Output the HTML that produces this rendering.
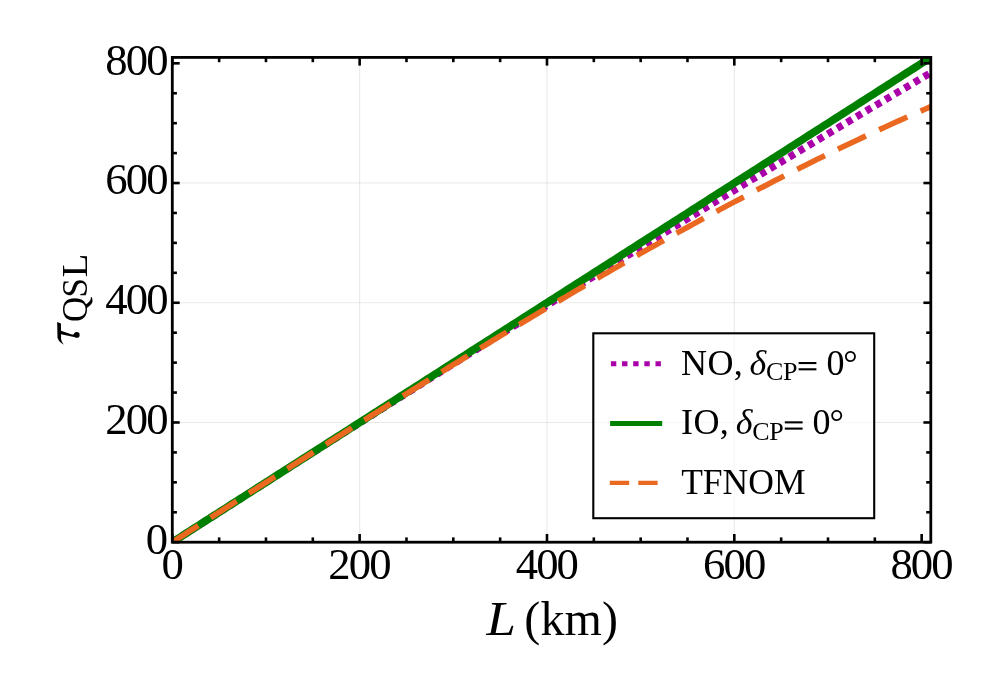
<!DOCTYPE html>
<html><head><meta charset="utf-8"><title>plot</title>
<style>
html,body{margin:0;padding:0;background:#fff;}
body{width:997px;height:691px;overflow:hidden;font-family:"Liberation Serif",serif;}
svg{display:block;position:absolute;left:0;top:0;}
text{font-family:"Liberation Serif",serif;fill:#000;}
svg{will-change:transform;}
.it{font-style:italic;}
</style></head><body>
<svg width="997" height="691" viewBox="0 0 997 691">
<rect x="0" y="0" width="997" height="691" fill="#fff"/>
<defs><clipPath id="cp"><rect x="172.30" y="57.40" width="758.50" height="484.80"/></clipPath></defs>

<g stroke="#000" stroke-opacity="0.085" stroke-width="1.1" fill="none">
<line x1="359.64" y1="542.20" x2="359.64" y2="57.40"/>
<line x1="172.30" y1="422.48" x2="930.80" y2="422.48"/>
<line x1="546.98" y1="542.20" x2="546.98" y2="57.40"/>
<line x1="172.30" y1="302.76" x2="930.80" y2="302.76"/>
<line x1="734.32" y1="542.20" x2="734.32" y2="57.40"/>
<line x1="172.30" y1="183.04" x2="930.80" y2="183.04"/>
</g>
<g clip-path="url(#cp)" fill="none" stroke-linecap="butt" stroke-linejoin="round">
<path d="M172.30,542.20 L176.05,539.81 L179.79,537.41 L183.54,535.02 L187.29,532.62 L191.03,530.23 L194.78,527.84 L198.53,525.44 L202.27,523.05 L206.02,520.66 L209.77,518.26 L213.51,515.87 L217.26,513.48 L221.01,511.09 L224.76,508.70 L228.50,506.31 L232.25,503.92 L236.00,501.53 L239.74,499.14 L243.49,496.75 L247.24,494.36 L250.98,491.97 L254.73,489.58 L258.48,487.20 L262.22,484.81 L265.97,482.42 L269.72,480.04 L273.46,477.65 L277.21,475.27 L280.96,472.88 L284.70,470.50 L288.45,468.11 L292.20,465.73 L295.94,463.35 L299.69,460.97 L303.44,458.59 L307.18,456.21 L310.93,453.83 L314.68,451.45 L318.43,449.07 L322.17,446.69 L325.92,444.31 L329.67,441.94 L333.41,439.56 L337.16,437.18 L340.91,434.81 L344.65,432.43 L348.40,430.06 L352.15,427.69 L355.89,425.32 L359.64,422.94 L363.39,420.57 L367.13,418.20 L370.88,415.83 L374.63,413.47 L378.37,411.10 L382.12,408.73 L385.87,406.36 L389.61,404.00 L393.36,401.63 L397.11,399.27 L400.85,396.90 L404.60,394.54 L408.35,392.18 L412.10,389.82 L415.84,387.46 L419.59,385.10 L423.34,382.74 L427.08,380.38 L430.83,378.02 L434.58,375.67 L438.32,373.31 L442.07,370.96 L445.82,368.60 L449.56,366.25 L453.31,363.90 L457.06,361.55 L460.80,359.20 L464.55,356.85 L468.30,354.50 L472.04,352.15 L475.79,349.80 L479.54,347.46 L483.28,345.11 L487.03,342.77 L490.78,340.43 L494.52,338.08 L498.27,335.74 L502.02,333.40 L505.77,331.06 L509.51,328.72 L513.26,326.38 L517.01,324.05 L520.75,321.71 L524.50,319.38 L528.25,317.04 L531.99,314.71 L535.74,312.38 L539.49,310.05 L543.23,307.72 L546.98,305.39 L550.73,303.06 L554.47,300.73 L558.22,298.40 L561.97,296.08 L565.71,293.75 L569.46,291.43 L573.21,289.11 L576.95,286.79 L580.70,284.47 L584.45,282.15 L588.19,279.83 L591.94,277.51 L595.69,275.20 L599.44,272.88 L603.18,270.57 L606.93,268.26 L610.68,265.94 L614.42,263.63 L618.17,261.32 L621.92,259.01 L625.66,256.71 L629.41,254.40 L633.16,252.10 L636.90,249.79 L640.65,247.49 L644.40,245.19 L648.14,242.88 L651.89,240.58 L655.64,238.29 L659.38,235.99 L663.13,233.69 L666.88,231.40 L670.62,229.10 L674.37,226.81 L678.12,224.52 L681.86,222.23 L685.61,219.94 L689.36,217.65 L693.11,215.36 L696.85,213.07 L700.60,210.79 L704.35,208.51 L708.09,206.22 L711.84,203.94 L715.59,201.66 L719.33,199.38 L723.08,197.10 L726.83,194.83 L730.57,192.55 L734.32,190.28 L738.07,188.00 L741.81,185.73 L745.56,183.46 L749.31,181.19 L753.05,178.92 L756.80,176.66 L760.55,174.39 L764.29,172.13 L768.04,169.86 L771.79,167.60 L775.53,165.34 L779.28,163.08 L783.03,160.82 L786.78,158.56 L790.52,156.31 L794.27,154.05 L798.02,151.80 L801.76,149.55 L805.51,147.30 L809.26,145.05 L813.00,142.80 L816.75,140.55 L820.50,138.31 L824.24,136.06 L827.99,133.82 L831.74,131.58 L835.48,129.34 L839.23,127.10 L842.98,124.86 L846.72,122.62 L850.47,120.39 L854.22,118.15 L857.96,115.92 L861.71,113.69 L865.46,111.46 L869.20,109.23 L872.95,107.01 L876.70,104.78 L880.45,102.55 L884.19,100.33 L887.94,98.11 L891.69,95.89 L895.43,93.67 L899.18,91.45 L902.93,89.24 L906.67,87.02 L910.42,84.81 L914.17,82.60 L917.91,80.38 L921.66,78.18 L925.41,75.97 L929.15,73.76 L932.90,71.56" stroke="#aa00aa" stroke-width="7.30" stroke-dasharray="6.1 5.09"/>
<path d="M172.30,542.20 L176.05,539.81 L179.79,537.41 L183.54,535.02 L187.29,532.62 L191.03,530.23 L194.78,527.83 L198.53,525.44 L202.27,523.04 L206.02,520.65 L209.77,518.26 L213.51,515.86 L217.26,513.47 L221.01,511.07 L224.76,508.68 L228.50,506.28 L232.25,503.89 L236.00,501.50 L239.74,499.10 L243.49,496.71 L247.24,494.31 L250.98,491.92 L254.73,489.52 L258.48,487.13 L262.22,484.73 L265.97,482.34 L269.72,479.95 L273.46,477.55 L277.21,475.16 L280.96,472.76 L284.70,470.37 L288.45,467.97 L292.20,465.58 L295.94,463.18 L299.69,460.79 L303.44,458.40 L307.18,456.00 L310.93,453.61 L314.68,451.21 L318.43,448.82 L322.17,446.42 L325.92,444.03 L329.67,441.64 L333.41,439.24 L337.16,436.85 L340.91,434.45 L344.65,432.06 L348.40,429.66 L352.15,427.27 L355.89,424.87 L359.64,422.48 L363.39,420.09 L367.13,417.69 L370.88,415.30 L374.63,412.90 L378.37,410.51 L382.12,408.11 L385.87,405.72 L389.61,403.32 L393.36,400.93 L397.11,398.54 L400.85,396.14 L404.60,393.75 L408.35,391.35 L412.10,388.96 L415.84,386.56 L419.59,384.17 L423.34,381.78 L427.08,379.38 L430.83,376.99 L434.58,374.59 L438.32,372.20 L442.07,369.80 L445.82,367.41 L449.56,365.01 L453.31,362.62 L457.06,360.23 L460.80,357.83 L464.55,355.44 L468.30,353.04 L472.04,350.65 L475.79,348.25 L479.54,345.86 L483.28,343.46 L487.03,341.07 L490.78,338.68 L494.52,336.28 L498.27,333.89 L502.02,331.49 L505.77,329.10 L509.51,326.70 L513.26,324.31 L517.01,321.92 L520.75,319.52 L524.50,317.13 L528.25,314.73 L531.99,312.34 L535.74,309.94 L539.49,307.55 L543.23,305.15 L546.98,302.76 L550.73,300.37 L554.47,297.97 L558.22,295.58 L561.97,293.18 L565.71,290.79 L569.46,288.39 L573.21,286.00 L576.95,283.60 L580.70,281.21 L584.45,278.82 L588.19,276.42 L591.94,274.03 L595.69,271.63 L599.44,269.24 L603.18,266.84 L606.93,264.45 L610.68,262.06 L614.42,259.66 L618.17,257.27 L621.92,254.87 L625.66,252.48 L629.41,250.08 L633.16,247.69 L636.90,245.29 L640.65,242.90 L644.40,240.51 L648.14,238.11 L651.89,235.72 L655.64,233.32 L659.38,230.93 L663.13,228.53 L666.88,226.14 L670.62,223.74 L674.37,221.35 L678.12,218.96 L681.86,216.56 L685.61,214.17 L689.36,211.77 L693.11,209.38 L696.85,206.98 L700.60,204.59 L704.35,202.20 L708.09,199.80 L711.84,197.41 L715.59,195.01 L719.33,192.62 L723.08,190.22 L726.83,187.83 L730.57,185.43 L734.32,183.04 L738.07,180.65 L741.81,178.25 L745.56,175.86 L749.31,173.46 L753.05,171.07 L756.80,168.67 L760.55,166.28 L764.29,163.88 L768.04,161.49 L771.79,159.10 L775.53,156.70 L779.28,154.31 L783.03,151.91 L786.78,149.52 L790.52,147.12 L794.27,144.73 L798.02,142.34 L801.76,139.94 L805.51,137.55 L809.26,135.15 L813.00,132.76 L816.75,130.36 L820.50,127.97 L824.24,125.57 L827.99,123.18 L831.74,120.79 L835.48,118.39 L839.23,116.00 L842.98,113.60 L846.72,111.21 L850.47,108.81 L854.22,106.42 L857.96,104.02 L861.71,101.63 L865.46,99.24 L869.20,96.84 L872.95,94.45 L876.70,92.05 L880.45,89.66 L884.19,87.26 L887.94,84.87 L891.69,82.48 L895.43,80.08 L899.18,77.69 L902.93,75.29 L906.67,72.90 L910.42,70.50 L914.17,68.11 L917.91,65.71 L921.66,63.32 L925.41,60.93 L929.15,58.53 L932.90,56.14" stroke="#008000" stroke-width="7.80"/>
<path d="M172.30,542.20 L176.05,539.81 L179.79,537.41 L183.54,535.02 L187.29,532.62 L191.03,530.23 L194.78,527.83 L198.53,525.44 L202.27,523.05 L206.02,520.65 L209.77,518.26 L213.51,515.87 L217.26,513.47 L221.01,511.08 L224.76,508.69 L228.50,506.30 L232.25,503.90 L236.00,501.51 L239.74,499.12 L243.49,496.73 L247.24,494.34 L250.98,491.95 L254.73,489.56 L258.48,487.18 L262.22,484.79 L265.97,482.40 L269.72,480.01 L273.46,477.63 L277.21,475.24 L280.96,472.86 L284.70,470.48 L288.45,468.10 L292.20,465.71 L295.94,463.33 L299.69,460.95 L303.44,458.58 L307.18,456.20 L310.93,453.82 L314.68,451.45 L318.43,449.07 L322.17,446.70 L325.92,444.33 L329.67,441.96 L333.41,439.59 L337.16,437.22 L340.91,434.85 L344.65,432.49 L348.40,430.12 L352.15,427.76 L355.89,425.40 L359.64,423.04 L363.39,420.68 L367.13,418.33 L370.88,415.97 L374.63,413.62 L378.37,411.27 L382.12,408.92 L385.87,406.57 L389.61,404.23 L393.36,401.88 L397.11,399.54 L400.85,397.20 L404.60,394.86 L408.35,392.53 L412.10,390.19 L415.84,387.86 L419.59,385.53 L423.34,383.21 L427.08,380.88 L430.83,378.56 L434.58,376.24 L438.32,373.92 L442.07,371.60 L445.82,369.29 L449.56,366.98 L453.31,364.67 L457.06,362.37 L460.80,360.06 L464.55,357.76 L468.30,355.47 L472.04,353.17 L475.79,350.88 L479.54,348.59 L483.28,346.30 L487.03,344.02 L490.78,341.74 L494.52,339.46 L498.27,337.19 L502.02,334.92 L505.77,332.65 L509.51,330.38 L513.26,328.12 L517.01,325.86 L520.75,323.61 L524.50,321.35 L528.25,319.10 L531.99,316.86 L535.74,314.62 L539.49,312.38 L543.23,310.14 L546.98,307.91 L550.73,305.68 L554.47,303.46 L558.22,301.24 L561.97,299.02 L565.71,296.81 L569.46,294.60 L573.21,292.40 L576.95,290.20 L580.70,288.00 L584.45,285.81 L588.19,283.62 L591.94,281.43 L595.69,279.25 L599.44,277.07 L603.18,274.90 L606.93,272.73 L610.68,270.57 L614.42,268.41 L618.17,266.26 L621.92,264.11 L625.66,261.96 L629.41,259.82 L633.16,257.68 L636.90,255.55 L640.65,253.42 L644.40,251.30 L648.14,249.18 L651.89,247.07 L655.64,244.96 L659.38,242.86 L663.13,240.76 L666.88,238.67 L670.62,236.58 L674.37,234.49 L678.12,232.42 L681.86,230.34 L685.61,228.28 L689.36,226.21 L693.11,224.16 L696.85,222.11 L700.60,220.06 L704.35,218.02 L708.09,215.98 L711.84,213.95 L715.59,211.93 L719.33,209.91 L723.08,207.90 L726.83,205.89 L730.57,203.89 L734.32,201.90 L738.07,199.91 L741.81,197.92 L745.56,195.95 L749.31,193.98 L753.05,192.01 L756.80,190.05 L760.55,188.10 L764.29,186.15 L768.04,184.21 L771.79,182.28 L775.53,180.35 L779.28,178.43 L783.03,176.52 L786.78,174.61 L790.52,172.71 L794.27,170.81 L798.02,168.92 L801.76,167.04 L805.51,165.17 L809.26,163.30 L813.00,161.44 L816.75,159.58 L820.50,157.74 L824.24,155.89 L827.99,154.06 L831.74,152.24 L835.48,150.42 L839.23,148.60 L842.98,146.80 L846.72,145.00 L850.47,143.21 L854.22,141.43 L857.96,139.66 L861.71,137.89 L865.46,136.13 L869.20,134.37 L872.95,132.63 L876.70,130.89 L880.45,129.16 L884.19,127.44 L887.94,125.73 L891.69,124.02 L895.43,122.32 L899.18,120.63 L902.93,118.95 L906.67,117.28 L910.42,115.61 L914.17,113.96 L917.91,112.31 L921.66,110.66 L925.41,109.03 L929.15,107.41 L932.90,105.79" stroke="#ea6820" stroke-width="5.60" stroke-dasharray="30.9 14.6"/>
</g>
<g stroke="#000" fill="none" stroke-linecap="butt">
<rect x="172.30" y="57.40" width="758.50" height="484.80" stroke-width="2.8"/>
<line x1="172.30" y1="542.20" x2="172.30" y2="534.00" stroke-width="2.60"/>
<line x1="172.30" y1="57.40" x2="172.30" y2="65.60" stroke-width="2.60"/>
<line x1="172.30" y1="542.20" x2="179.70" y2="542.20" stroke-width="2.60"/>
<line x1="930.80" y1="542.20" x2="923.40" y2="542.20" stroke-width="2.60"/>
<line x1="219.14" y1="542.20" x2="219.14" y2="537.40" stroke-width="2.60"/>
<line x1="219.14" y1="57.40" x2="219.14" y2="62.20" stroke-width="2.60"/>
<line x1="172.30" y1="512.27" x2="176.90" y2="512.27" stroke-width="2.60"/>
<line x1="930.80" y1="512.27" x2="926.20" y2="512.27" stroke-width="2.60"/>
<line x1="265.97" y1="542.20" x2="265.97" y2="537.40" stroke-width="2.60"/>
<line x1="265.97" y1="57.40" x2="265.97" y2="62.20" stroke-width="2.60"/>
<line x1="172.30" y1="482.34" x2="176.90" y2="482.34" stroke-width="2.60"/>
<line x1="930.80" y1="482.34" x2="926.20" y2="482.34" stroke-width="2.60"/>
<line x1="312.81" y1="542.20" x2="312.81" y2="537.40" stroke-width="2.60"/>
<line x1="312.81" y1="57.40" x2="312.81" y2="62.20" stroke-width="2.60"/>
<line x1="172.30" y1="452.41" x2="176.90" y2="452.41" stroke-width="2.60"/>
<line x1="930.80" y1="452.41" x2="926.20" y2="452.41" stroke-width="2.60"/>
<line x1="359.64" y1="542.20" x2="359.64" y2="534.00" stroke-width="2.60"/>
<line x1="359.64" y1="57.40" x2="359.64" y2="65.60" stroke-width="2.60"/>
<line x1="172.30" y1="422.48" x2="179.70" y2="422.48" stroke-width="2.60"/>
<line x1="930.80" y1="422.48" x2="923.40" y2="422.48" stroke-width="2.60"/>
<line x1="406.48" y1="542.20" x2="406.48" y2="537.40" stroke-width="2.60"/>
<line x1="406.48" y1="57.40" x2="406.48" y2="62.20" stroke-width="2.60"/>
<line x1="172.30" y1="392.55" x2="176.90" y2="392.55" stroke-width="2.60"/>
<line x1="930.80" y1="392.55" x2="926.20" y2="392.55" stroke-width="2.60"/>
<line x1="453.31" y1="542.20" x2="453.31" y2="537.40" stroke-width="2.60"/>
<line x1="453.31" y1="57.40" x2="453.31" y2="62.20" stroke-width="2.60"/>
<line x1="172.30" y1="362.62" x2="176.90" y2="362.62" stroke-width="2.60"/>
<line x1="930.80" y1="362.62" x2="926.20" y2="362.62" stroke-width="2.60"/>
<line x1="500.14" y1="542.20" x2="500.14" y2="537.40" stroke-width="2.60"/>
<line x1="500.14" y1="57.40" x2="500.14" y2="62.20" stroke-width="2.60"/>
<line x1="172.30" y1="332.69" x2="176.90" y2="332.69" stroke-width="2.60"/>
<line x1="930.80" y1="332.69" x2="926.20" y2="332.69" stroke-width="2.60"/>
<line x1="546.98" y1="542.20" x2="546.98" y2="534.00" stroke-width="2.60"/>
<line x1="546.98" y1="57.40" x2="546.98" y2="65.60" stroke-width="2.60"/>
<line x1="172.30" y1="302.76" x2="179.70" y2="302.76" stroke-width="2.60"/>
<line x1="930.80" y1="302.76" x2="923.40" y2="302.76" stroke-width="2.60"/>
<line x1="593.82" y1="542.20" x2="593.82" y2="537.40" stroke-width="2.60"/>
<line x1="593.82" y1="57.40" x2="593.82" y2="62.20" stroke-width="2.60"/>
<line x1="172.30" y1="272.83" x2="176.90" y2="272.83" stroke-width="2.60"/>
<line x1="930.80" y1="272.83" x2="926.20" y2="272.83" stroke-width="2.60"/>
<line x1="640.65" y1="542.20" x2="640.65" y2="537.40" stroke-width="2.60"/>
<line x1="640.65" y1="57.40" x2="640.65" y2="62.20" stroke-width="2.60"/>
<line x1="172.30" y1="242.90" x2="176.90" y2="242.90" stroke-width="2.60"/>
<line x1="930.80" y1="242.90" x2="926.20" y2="242.90" stroke-width="2.60"/>
<line x1="687.48" y1="542.20" x2="687.48" y2="537.40" stroke-width="2.60"/>
<line x1="687.48" y1="57.40" x2="687.48" y2="62.20" stroke-width="2.60"/>
<line x1="172.30" y1="212.97" x2="176.90" y2="212.97" stroke-width="2.60"/>
<line x1="930.80" y1="212.97" x2="926.20" y2="212.97" stroke-width="2.60"/>
<line x1="734.32" y1="542.20" x2="734.32" y2="534.00" stroke-width="2.60"/>
<line x1="734.32" y1="57.40" x2="734.32" y2="65.60" stroke-width="2.60"/>
<line x1="172.30" y1="183.04" x2="179.70" y2="183.04" stroke-width="2.60"/>
<line x1="930.80" y1="183.04" x2="923.40" y2="183.04" stroke-width="2.60"/>
<line x1="781.15" y1="542.20" x2="781.15" y2="537.40" stroke-width="2.60"/>
<line x1="781.15" y1="57.40" x2="781.15" y2="62.20" stroke-width="2.60"/>
<line x1="172.30" y1="153.11" x2="176.90" y2="153.11" stroke-width="2.60"/>
<line x1="930.80" y1="153.11" x2="926.20" y2="153.11" stroke-width="2.60"/>
<line x1="827.99" y1="542.20" x2="827.99" y2="537.40" stroke-width="2.60"/>
<line x1="827.99" y1="57.40" x2="827.99" y2="62.20" stroke-width="2.60"/>
<line x1="172.30" y1="123.18" x2="176.90" y2="123.18" stroke-width="2.60"/>
<line x1="930.80" y1="123.18" x2="926.20" y2="123.18" stroke-width="2.60"/>
<line x1="874.83" y1="542.20" x2="874.83" y2="537.40" stroke-width="2.60"/>
<line x1="874.83" y1="57.40" x2="874.83" y2="62.20" stroke-width="2.60"/>
<line x1="172.30" y1="93.25" x2="176.90" y2="93.25" stroke-width="2.60"/>
<line x1="930.80" y1="93.25" x2="926.20" y2="93.25" stroke-width="2.60"/>
<line x1="921.66" y1="542.20" x2="921.66" y2="534.00" stroke-width="2.60"/>
<line x1="921.66" y1="57.40" x2="921.66" y2="65.60" stroke-width="2.60"/>
<line x1="172.30" y1="63.32" x2="179.70" y2="63.32" stroke-width="2.60"/>
<line x1="930.80" y1="63.32" x2="923.40" y2="63.32" stroke-width="2.60"/>
</g>
<g font-size="44.7" letter-spacing="-1.9">
<text x="171.70" y="578.70" text-anchor="middle">0</text>
<text x="166.20" y="553.60" text-anchor="end">0</text>
<text x="359.04" y="578.70" text-anchor="middle">200</text>
<text x="166.70" y="433.88" text-anchor="end">200</text>
<text x="546.38" y="578.70" text-anchor="middle">400</text>
<text x="166.70" y="314.16" text-anchor="end">400</text>
<text x="733.72" y="578.70" text-anchor="middle">600</text>
<text x="166.70" y="194.44" text-anchor="end">600</text>
<text x="921.06" y="578.70" text-anchor="middle">800</text>
<text x="166.70" y="74.72" text-anchor="end">800</text>
</g>
<text transform="translate(486.4,634.6) scale(1.1,1)" x="0" y="0" font-size="48" class="it">L</text>
<text x="524.3" y="634.6" font-size="48" letter-spacing="0.15">(km)</text>
<g transform="translate(52,316) scale(0.04919)" fill="#000" stroke="none"><path d="M105,120 L182,150 L185,470 C190,510 215,550 240,585 C180,545 125,500 112,440 Z"/><path d="M183,298 L405,374 C440,384 452,352 475,333 L500,383 L470,434 L183,373 Z"/><circle cx="505" cy="384" r="57"/></g>
<g transform="translate(86.6,321.9) rotate(-90)"><text x="0" y="0" font-size="35" letter-spacing="0.8">Q<tspan dx="-1.7">S</tspan></text><text x="0" y="0" font-size="35" transform="translate(44.7,0) scale(1.1,1)">L</text></g>
<rect x="593.3" y="333.3" width="280.9" height="184.9" fill="#fff" fill-opacity="0.65" stroke="#000" stroke-width="2.1"/>
<g fill="none" stroke-linecap="butt">
<line x1="610.9" y1="363.7" x2="661.3" y2="363.7" stroke="#aa00aa" stroke-width="5.0" stroke-dasharray="5.4 5.75"/>
<line x1="610.1" y1="423.5" x2="662.2" y2="423.5" stroke="#008000" stroke-width="5.0"/>
<line x1="609.8" y1="482.9" x2="657.6" y2="482.9" stroke="#ea6820" stroke-width="4.3" stroke-dasharray="19.4 9.1"/>
</g>
<text x="681.0" y="374.90" font-size="36" letter-spacing="0.4">NO,</text>
<text x="749.60" y="374.90" font-size="36" class="it">δ</text>
<text x="766.10" y="380.30" font-size="26" letter-spacing="-0.4">CP</text>
<rect x="798.60" y="362.00" width="17.8" height="2.1"/><rect x="798.60" y="368.25" width="17.8" height="2.1"/>
<text x="826.40" y="374.90" font-size="36">0</text>
<text x="843.30" y="374.90" font-size="36">°</text>
<text x="681.0" y="434.20" font-size="36" letter-spacing="0.4">IO,</text>
<text x="735.80" y="434.20" font-size="36" class="it">δ</text>
<text x="752.30" y="439.60" font-size="26" letter-spacing="-0.4">CP</text>
<rect x="784.80" y="421.30" width="17.8" height="2.1"/><rect x="784.80" y="427.55" width="17.8" height="2.1"/>
<text x="812.60" y="434.20" font-size="36">0</text>
<text x="829.50" y="434.20" font-size="36">°</text>
<text x="681.2" y="494.1" font-size="35.5">TFNOM</text>
</svg></body></html>
